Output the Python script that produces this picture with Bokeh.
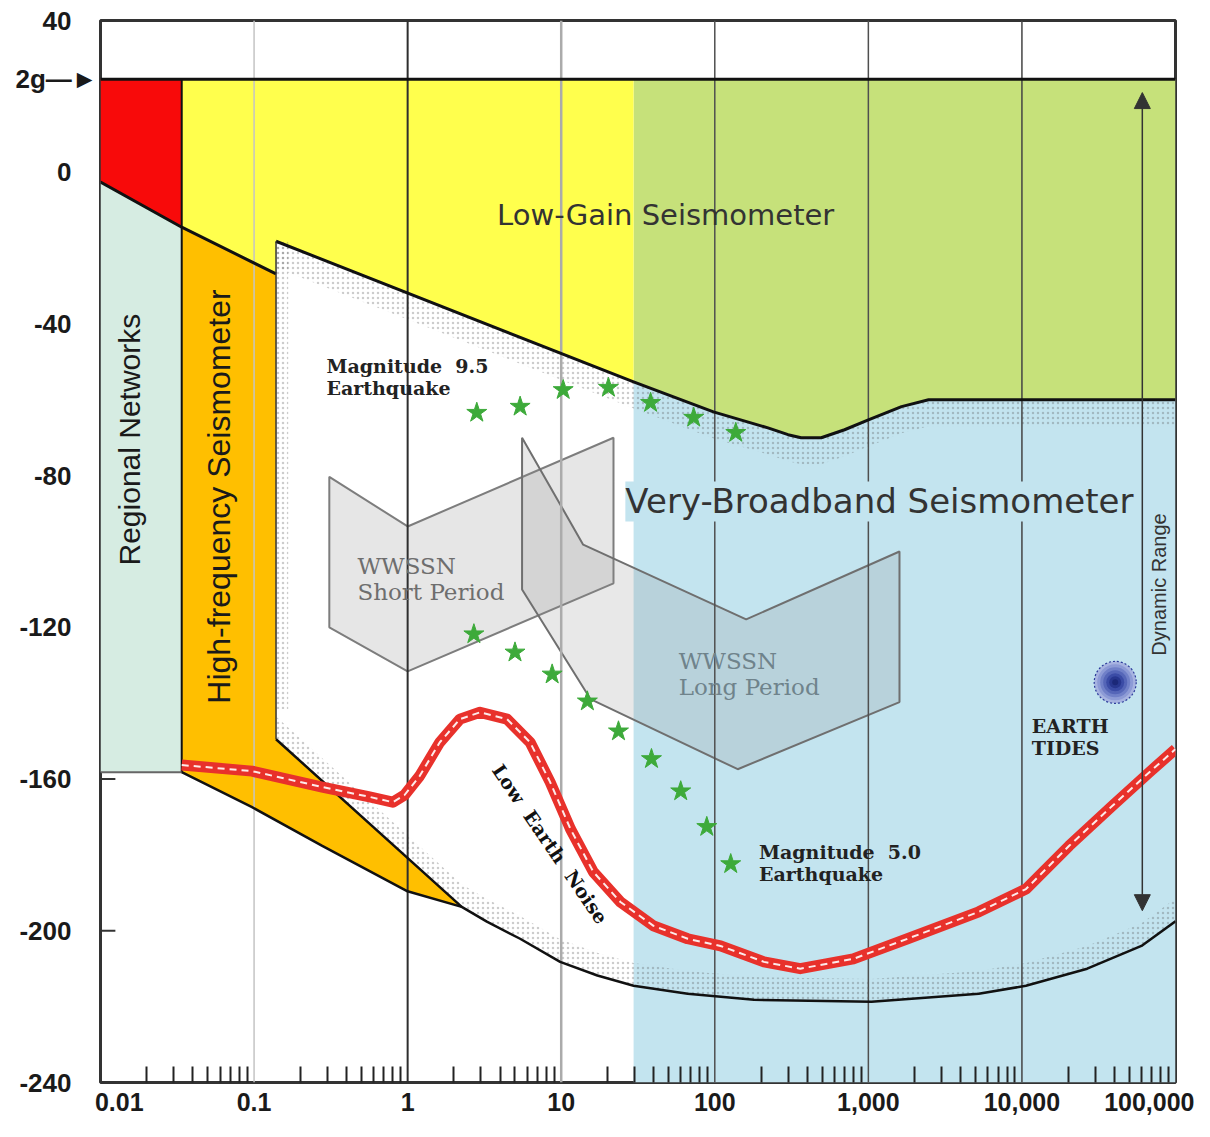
from bokeh.plotting import figure
from bokeh.models import Range1d, FixedTicker, Label, Arrow, NormalHead
from bokeh.core.properties import value
from bokeh.embed import file_html
from bokeh.resources import INLINE

# ---------------- data (period in s, level in dB) ----------------
x_ticks = [0.01, 0.1, 1, 10, 100, 1000, 10000, 100000]
x_tick_labels = ["0.01", "0.1", "1", "10", "100", "1,000", "10,000", "100,000"]
y_ticks = [-240, -200, -160, -120, -80, -40, 0, 40]
y_tick_labels = ["-240", "-200", "-160", "-120", "-80", "-40", "0", "40"]
two_g = 24.5

# upper edge of red / regional / high-frequency bands
edge_period = [0.01, 0.0338, 0.139]
edge_db = [-2.6, -14.5, -26.8]
hf_left = 0.0338
vbb_left = 0.139
lowgain_right = 29.6
regional_floor = -158.2

# clip level of the very-broadband seismometer (upper boundary)
upper_period = [0.139, 29.6, 98, 222, 300, 365, 493, 700, 1000, 1644, 2466, 7400, 100000]
upper_db = [-18.2, -55.3, -63.2, -67.4, -69.2, -70.0, -70.0, -67.9, -65.3, -61.8, -60.0, -60.0, -60.0]

# high-frequency seismometer lower edge
hf_bottom_period = [0.0338, 0.097, 0.278, 0.985, 2.25]
hf_bottom_db = [-158.2, -167.4, -177.6, -189.5, -193.7]

# very-broadband lower edge (self noise)
lower_period = [0.139, 2.25, 3.28, 5.4, 9.84, 17.2, 29.6, 66.6, 180, 1047, 5236, 10620, 26600, 60000, 100000]
lower_db = [-149.5, -193.7, -197.6, -202.1, -208.2, -211.8, -214.5, -216.6, -218.2, -218.7, -216.6, -214.5, -210.0, -204.0, -197.5]

# low earth noise model
noise_period = [0.0338, 0.097, 0.278, 0.565, 0.80, 0.955, 1.197, 1.62, 2.19, 2.96, 4.44, 6.27, 8.47, 11.5, 16.2,
                24.3, 39.9, 66.6, 109, 209, 360, 798, 1799, 5236, 10620, 20300, 38700, 67600, 100000]
noise_db = [-156.3, -157.9, -162.1, -164.7, -166.1, -164.2, -159.2, -150.3, -144.2, -142.4, -144.2, -150.3, -160.8, -173.2, -184.5,
            -192.4, -198.7, -202.1, -204.0, -208.2, -210.0, -207.4, -202.1, -195.0, -189.0, -177.6, -167.1, -158.2, -152.1]

# earthquakes
m95_period = [2.82, 5.4, 10.3, 20.3, 38.2, 72.9, 137]
m95_db = [-63.4, -61.8, -57.4, -56.8, -60.8, -64.7, -68.7]
m50_period = [2.70, 5.0, 8.73, 14.8, 23.6, 38.7, 60.0, 88.7, 127]
m50_db = [-121.8, -126.6, -132.4, -139.5, -147.4, -154.7, -163.2, -172.6, -182.4]

# WWSSN instruments
wwssn_sp_period = [0.309, 1.0, 21.9, 21.9, 1.0, 0.309]
wwssn_sp_db = [-80.3, -93.4, -70.0, -108.4, -131.6, -120.0]
wwssn_lp_period = [5.56, 13.9, 160, 1595, 1595, 141, 15.5, 5.56]
wwssn_lp_db = [-70.0, -98.2, -117.9, -100.0, -139.7, -157.4, -138.9, -110.0]

# earth tides and dynamic range
tides_period, tides_db = 40500, -134.5
dyn_period, dyn_top_db, dyn_bottom_db = 60800, 21.0, -194.7

# ---------------- figure ----------------
p = figure(width=1194, height=1121, x_axis_type="log",
           x_range=Range1d(0.01, 100000), y_range=Range1d(-240, 40),
           output_backend="svg", toolbar_location=None,
           min_border_left=100, min_border_right=19, min_border_top=20, min_border_bottom=39)
p.grid.visible = False
p.background_fill_color = "white"
p.border_fill_color = "white"
p.outline_line_color = "#333333"
p.outline_line_width = 3

BOLD_AX = "Liberation Sans"
EM = "\u2003"
x_minor = [m * 10.0 ** e for e in range(-2, 5) for m in range(2, 10)]
x_over = {t: l for t, l in zip(x_ticks, x_tick_labels)}
x_over[x_ticks[0]] = EM + "\u2002" + x_tick_labels[0]
p.xaxis.ticker = FixedTicker(ticks=x_ticks, minor_ticks=x_minor)
p.xaxis.major_label_overrides = x_over
p.xaxis.major_tick_in = 0
p.xaxis.major_tick_out = 0
p.xaxis.minor_tick_in = 16
p.xaxis.minor_tick_out = 0
p.xaxis.minor_tick_line_color = "#222222"
p.xaxis.minor_tick_line_width = 2
p.xaxis.axis_line_color = None
p.xaxis.major_label_standoff = 5
p.xaxis.major_label_text_font_size = "25px"

y_over = {t: l + EM for t, l in zip(y_ticks, y_tick_labels)}
y_over[two_g] = "2g\u2014\u25ba"
p.yaxis.ticker = FixedTicker(ticks=y_ticks + [two_g], minor_ticks=[])
p.yaxis.major_label_overrides = y_over
p.yaxis.major_tick_in = 0
p.yaxis.major_tick_out = 0
p.yaxis.axis_line_color = None
p.yaxis.major_label_standoff = 3
p.yaxis.major_label_text_font_size = "26px"
for ax in (p.xaxis, p.yaxis):
    ax.major_label_text_font = BOLD_AX
    ax.major_label_text_font_style = "bold"
    ax.major_label_text_color = "#1a1a1a"

# y tick marks (under the fills)
tick_len = 0.0125
p.segment(x0=[0.01] * len(y_ticks), y0=y_ticks, x1=[tick_len] * len(y_ticks), y1=y_ticks,
          line_color="#333333", line_width=2)

# ---------------- filled regions ----------------
p.patch(upper_period[1:] + [100000, lowgain_right], upper_db[1:] + [-240, -240],
        fill_color="#c3e4ef", line_color=None)
p.patch([lowgain_right, 100000] + upper_period[1:][::-1], [two_g, two_g] + upper_db[1:][::-1],
        fill_color="#c6e17a", line_color=None)
p.patch([hf_left, lowgain_right, lowgain_right, vbb_left, vbb_left, hf_left],
        [two_g, two_g, upper_db[1], upper_db[0], edge_db[2], edge_db[1]],
        fill_color="#ffff4d", line_color=None)
p.patch([0.01, hf_left, hf_left, 0.01], [two_g, two_g, edge_db[1], edge_db[0]],
        fill_color="#f80a0a", line_color=None)
p.patch([0.01, hf_left, hf_left, 0.01], [edge_db[0], edge_db[1], regional_floor, regional_floor],
        fill_color="#d6ece2", line_color=None)
p.patch([hf_left, vbb_left, vbb_left] + hf_bottom_period[::-1],
        [edge_db[1], edge_db[2], lower_db[0]] + hf_bottom_db[::-1],
        fill_color="#ffbf00", line_color=None)

# stipple along the very-broadband edges
st = dict(fill_alpha=0, hatch_pattern=".", hatch_scale=5, hatch_color="#555555", hatch_alpha=0.3, hatch_weight=1)
p.varea(x=upper_period, y1=upper_db, y2=[d - 7 for d in upper_db], **st)
p.varea(x=lower_period, y1=lower_db, y2=[d + 6 for d in lower_db], **st)
p.harea(y=[upper_db[0], lower_db[0] + 8], x1=[vbb_left, vbb_left], x2=[vbb_left * 1.2, vbb_left * 1.2], **st)

# WWSSN instruments
p.patch(wwssn_sp_period, wwssn_sp_db, fill_color="#e6e6e6", line_color="#7d7d7d", line_width=2)
p.patch(wwssn_lp_period, wwssn_lp_db, fill_color="#8c8c8c", fill_alpha=0.2,
        line_color="#6f6f6f", line_width=2)

# decade grid lines
grid_colors = ["#c4c4c4", "#2e2e2e", "#ababab", "#4f4f4f", "#4f4f4f", "#444444"]
grid_widths = [1.5, 2, 2.5, 1.5, 1.5, 1.5]
decades = x_ticks[1:-1]
p.segment(x0=decades, y0=[-240] * len(decades), x1=decades, y1=[40] * len(decades),
          line_color=grid_colors, line_width=grid_widths)

# ---------------- boundary lines ----------------
blk = "#111111"
p.line([0.01, 100000], [two_g, two_g], line_color=blk, line_width=3)
p.line(edge_period, edge_db, line_color=blk, line_width=3)
p.line(upper_period, upper_db, line_color=blk, line_width=3, line_join="round")
p.line([hf_left, hf_left], [two_g, regional_floor], line_color=blk, line_width=2)
p.line([vbb_left, vbb_left], [upper_db[0], lower_db[0]], line_color="#333333", line_width=1.5)
p.line([0.01, hf_left], [regional_floor, regional_floor], line_color="#666666", line_width=2)
p.line(hf_bottom_period, hf_bottom_db, line_color=blk, line_width=2.5)
p.line(lower_period, lower_db, line_color=blk, line_width=2.5)

# low earth noise
p.line(noise_period, noise_db, line_color="#e8312b", line_width=11, line_join="round")
p.line(noise_period, noise_db, line_color="white", line_width=2, line_dash="7 5", line_alpha=0.9)

# earthquakes
p.scatter(m95_period, m95_db, marker="star", size=21, fill_color="#3daa3a", line_color="#3daa3a")
p.scatter(m50_period, m50_db, marker="star", size=21, fill_color="#3daa3a", line_color="#3daa3a")

# earth tides
tide_sizes = [42, 36, 30, 24, 18, 12, 6]
tide_colors = ["#a7b3e0", "#8d9bd6", "#7080c8", "#5566b8", "#3b4ca6", "#28378f", "#1b2878"]
p.scatter([tides_period] * len(tide_sizes), [tides_db] * len(tide_sizes), size=tide_sizes,
          fill_color=tide_colors, line_color=None)
p.scatter([tides_period], [tides_db], size=42, fill_color=None, line_color="#2a3a9a",
          line_width=1.2, line_dash="2 2")

# ---------------- texts ----------------
def txt(x, y, t, font, size, color="#222222", style="normal", angle=0.0, align="left", baseline="middle"):
    p.text(x=[x], y=[y], text=[t], angle=angle, text_font=value(font), text_font_size=size,
           text_font_style=style, text_color=color, text_align=align, text_baseline=baseline)

SANS = "DejaVu Sans"
SERIF = "DejaVu Serif"
txt(47.9, -11.3, "Low-Gain Seismometer", SANS, "29px", "#333333", align="center")
txt(0.0155, -70.5, "Regional Networks", "Liberation Sans", "30px", "#1a1a1a", angle=1.5708, align="center")
txt(0.059, -85.5, "High-frequency Seismometer", "Liberation Sans", "32px", "#1a1a1a", angle=1.5708, align="center")
txt(78500, -108.7, "Dynamic Range", "Liberation Sans", "20px", "#333333", angle=1.5708, align="center")
txt(0.296, -51.1, "Magnitude\u00a0 9.5", SERIF, "19px", "#222222", "bold")
txt(0.296, -56.8, "Earthquake", SERIF, "19px", "#222222", "bold")
txt(194, -179.2, "Magnitude\u00a0 5.0", SERIF, "19px", "#222222", "bold")
txt(194, -185.0, "Earthquake", SERIF, "19px", "#222222", "bold")
txt(11600, -146.0, "EARTH", SERIF, "19px", "#222222", "bold")
txt(11600, -151.8, "TIDES", SERIF, "19px", "#222222", "bold")
txt(0.471, -103.7, "WWSSN", SERIF, "23px", "#6e6e6e")
txt(0.471, -110.8, "Short Period", SERIF, "23px", "#6e6e6e")
txt(58.2, -129.0, "WWSSN", SERIF, "23px", "#6f838b")
txt(58.2, -135.8, "Long Period", SERIF, "23px", "#6f838b")
txt(8.47, -177.1, "Low\u00a0 Earth\u00a0 Noise", SERIF, "19px", "#111111", "bold", angle=-0.97, align="center")

p.add_layout(Label(x=1180, y=-86.8, text="Very-Broadband Seismometer", text_font=SANS,
                   text_font_size="34px", text_color="#333333", text_align="center",
                   text_baseline="middle", background_fill_color="#c3e4ef", background_fill_alpha=1.0))

# dynamic range arrow
p.add_layout(Arrow(start=NormalHead(size=16, fill_color="#333333", line_color="#333333"),
                   end=NormalHead(size=16, fill_color="#333333", line_color="#333333"),
                   x_start=dyn_period, y_start=dyn_bottom_db, x_end=dyn_period, y_end=dyn_top_db,
                   line_color="#333333", line_width=1.5))

open("out.html", "w").write(file_html(p, INLINE))
